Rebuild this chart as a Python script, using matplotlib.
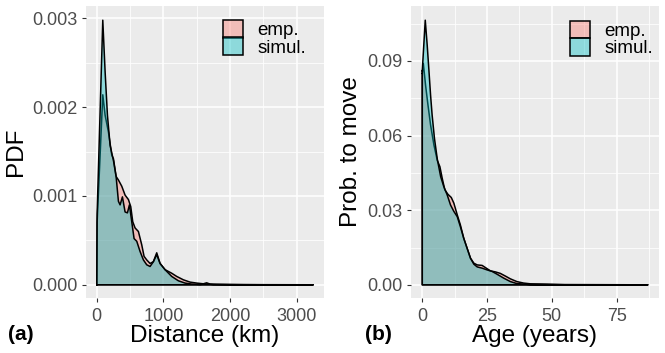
import matplotlib
matplotlib.use("Agg")
import matplotlib.pyplot as plt
from matplotlib.patches import Patch
from matplotlib.ticker import MultipleLocator, FormatStrFormatter

# --- Daten ---
# (a) Umzugsdistanz, PDF in 1e-3
dist_emp = [0, 5, 90, 125, 175, 225, 250, 290, 325, 375, 425, 475, 510, 540, 575,
            625, 675, 710, 750, 800, 850, 900, 950, 1025, 1125, 1200, 1300, 1400,
            1500, 1600, 1650, 1700, 1800, 2000, 2200, 2500, 3250]
pdf_emp = [0, 0.7, 2.14, 1.91, 1.72, 1.46, 1.42, 1.22, 1.18, 1.11, 1.01, 0.96, 0.88,
           0.71, 0.64, 0.60, 0.45, 0.32, 0.28, 0.24, 0.26, 0.36, 0.24, 0.17, 0.13,
           0.094, 0.056, 0.030, 0.019, 0.011, 0.022, 0.008, 0.006, 0.004, 0.002,
           0.0005, 0]

dist_sim = [0, 5, 90, 125, 160, 200, 250, 290, 325, 350, 385, 425, 460, 490, 525, 560,
            600, 650, 700, 750, 800, 850, 900, 950, 1025, 1125, 1225, 1325, 1425,
            1550, 1650, 1750, 2000, 3250]
pdf_sim = [0, 0.8, 2.98, 2.40, 1.91, 1.57, 1.40, 1.22, 0.94, 0.90, 0.99, 0.82, 0.81,
           0.90, 0.71, 0.52, 0.49, 0.375, 0.28, 0.225, 0.206, 0.26, 0.34, 0.24, 0.17,
           0.094, 0.045, 0.019, 0.008, 0.004, 0.010, 0.003, 0.001, 0]

# (b) Alter, Umzugswahrscheinlichkeit
age_emp = [0, 0.4, 1.3, 2.2, 3.2, 4.5, 5.8, 6.8, 7.7, 8.7, 9.9, 11.2, 12.2,
           13.5, 14.7, 16.0, 17.3, 18.6, 19.9, 21.2, 23.1, 24.7, 26.3, 28.2, 30.1,
           32.1, 34.0, 36.5, 39.1, 41.7, 48, 55, 87]
prob_emp = [0.085, 0.089, 0.080, 0.0723, 0.0643, 0.0562, 0.0500, 0.0475,
            0.0428, 0.0382, 0.0364, 0.0351, 0.0328, 0.0281, 0.0241, 0.0187, 0.0147,
            0.0107, 0.0087, 0.0080, 0.0078, 0.0067, 0.0056, 0.0052, 0.0046, 0.0035,
            0.0024, 0.0013, 0.0007, 0.0004, 0.0003, 0.0001, 0]

age_sim = [0, 1.15, 1.9, 2.6, 3.2, 3.8, 4.7, 5.8, 7.1, 8.3, 9.6, 10.9, 12.2, 13.5,
           14.7, 16.0, 17.3, 18.6, 19.9, 21.2, 23.1, 25.0, 26.9, 28.8, 31.4, 34.0,
           36.5, 39.1, 41.7, 50, 87]
prob_sim = [0.086, 0.1064, 0.0964, 0.0857, 0.0763, 0.0683, 0.0589, 0.0505, 0.0435,
            0.0395, 0.0362, 0.0321, 0.0295, 0.0274, 0.0234, 0.0187, 0.0147, 0.0107,
            0.0083, 0.0072, 0.0067, 0.0060, 0.0054, 0.0043, 0.0027, 0.0013, 0.0005,
            0.0003, 0.0001, 0, 0]

labels = ["emp.", "simul."]
col_emp = "#F8766D"
col_sim = "#00BFC4"

plt.rcParams['font.family'] = ['Liberation Sans', 'DejaVu Sans']

fig = plt.figure(figsize=(6.65, 3.53), dpi=100)
ax1 = fig.add_axes([86 / 665, 1 - 298 / 353, 238 / 665, 292 / 353])
ax2 = fig.add_axes([411 / 665, 1 - 298 / 353, 248 / 665, 292 / 353])


def style_axis(ax):
    ax.set_facecolor("#EBEBEB")
    for s in ax.spines.values():
        s.set_visible(False)
    ax.grid(which="major", color="white", lw=1.1, zorder=0)
    ax.grid(which="minor", color="white", lw=0.55, zorder=0)
    ax.set_axisbelow(True)
    ax.tick_params(which="major", length=3, width=0.8, color="#333333",
                   labelcolor="#4D4D4D", labelsize=13, pad=3)
    ax.tick_params(axis="x", which="major", pad=4.5)
    ax.tick_params(which="minor", length=0)


def draw(ax, x1, y1, x2, y2):
    ax.fill_between(x1, y1, 0, facecolor=col_emp, alpha=0.4, lw=0, zorder=2)
    ax.plot(x1 + [x1[-1], x1[0], x1[0]], y1 + [0, 0, y1[0]], color="black", lw=1.1, zorder=3)
    ax.fill_between(x2, y2, 0, facecolor=col_sim, alpha=0.4, lw=0, zorder=4)
    ax.plot(x2 + [x2[-1], x2[0], x2[0]], y2 + [0, 0, y2[0]], color="black", lw=1.1, zorder=5)


def legend(ax, x, y):
    handles = [Patch(facecolor=matplotlib.colors.to_rgba(col_emp, 0.4), edgecolor="black", lw=1.1),
               Patch(facecolor=matplotlib.colors.to_rgba(col_sim, 0.4), edgecolor="black", lw=1.1)]
    ax.legend(handles, labels, loc="upper left", bbox_to_anchor=(x, y), frameon=False,
              fontsize=13.5, handlelength=1.07, handleheight=1.07, handletextpad=0.75,
              labelspacing=-0.1, borderpad=0, borderaxespad=0)


# (a)
style_axis(ax1)
draw(ax1, dist_emp, [p / 1000 for p in pdf_emp], dist_sim, [p / 1000 for p in pdf_sim])
ax1.set_xlim(-162, 3412)
ax1.set_ylim(-0.000149, 0.00314)
ax1.xaxis.set_major_locator(MultipleLocator(1000))
ax1.xaxis.set_minor_locator(MultipleLocator(500))
ax1.yaxis.set_major_locator(MultipleLocator(0.001))
ax1.yaxis.set_minor_locator(MultipleLocator(0.0005))
ax1.yaxis.set_major_formatter(FormatStrFormatter("%.3f"))
ax1.set_xlabel("Distance (km)", fontsize=17.5, labelpad=0)
ax1.set_ylabel("PDF", fontsize=17.5, labelpad=4)
legend(ax1, 0.576, 0.952)

# (b)
style_axis(ax2)
draw(ax2, age_emp, prob_emp, age_sim, prob_sim)
ax2.set_xlim(-4.35, 91.35)
ax2.set_ylim(-0.0053, 0.1121)
ax2.xaxis.set_major_locator(MultipleLocator(25))
ax2.xaxis.set_minor_locator(MultipleLocator(12.5))
ax2.yaxis.set_major_locator(MultipleLocator(0.03))
ax2.yaxis.set_minor_locator(MultipleLocator(0.015))
ax2.yaxis.set_major_formatter(FormatStrFormatter("%.2f"))
ax2.set_xlabel("Age (years)", fontsize=17.5, labelpad=0)
ax2.set_ylabel("Prob. to move", fontsize=17.5, labelpad=4)
legend(ax2, 0.641, 0.950)

fig.text(8 / 665, 1 - 334 / 353, "(a)", fontsize=15, fontweight="bold", va="center")
fig.text(365 / 665, 1 - 334 / 353, "(b)", fontsize=15, fontweight="bold", va="center")

fig.savefig("out.png", dpi=100)
